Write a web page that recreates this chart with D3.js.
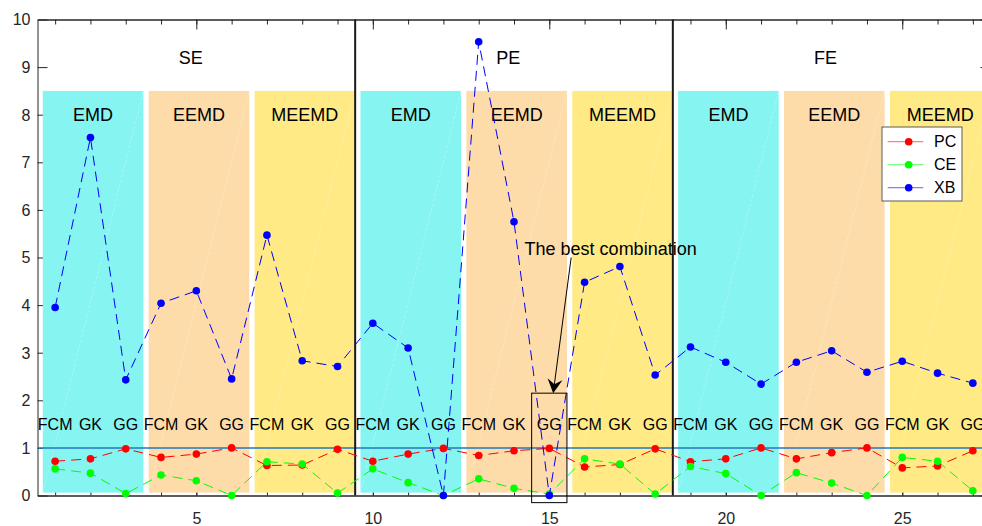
<!DOCTYPE html>
<html>
<head>
<meta charset="utf-8">
<script src="https://cdn.jsdelivr.net/npm/d3@7"></script>
<style>
  html, body { margin: 0; padding: 0; background: #fff; }
  svg { display: block; font-family: "Liberation Sans", Arial, sans-serif; }
</style>
</head>
<body>
<svg id="chart" width="982" height="526"></svg>
<script>
// Clustering validity indices for 27 combinations:
// entropy type (SE / PE / FE) x decomposition (EMD / EEMD / MEEMD) x clustering (FCM / GK / GG)
const groups = ["SE", "PE", "FE"];
const methods = ["EMD", "EEMD", "MEEMD"];
const algorithms = ["FCM", "GK", "GG"];
const methodColors = ["#86f4f0", "#fddca9", "#ffea86"];

const seriesNames = ["PC", "CE", "XB"];
const seriesColors = ["#ff0000", "#00ff00", "#0000ff"];

const PC = [0.72, 0.77, 0.98, 0.80, 0.87, 1.00, 0.63, 0.64, 0.97,
            0.72, 0.87, 0.99, 0.84, 0.94, 0.99, 0.60, 0.65, 0.98,
            0.71, 0.77, 1.00, 0.77, 0.90, 1.00, 0.58, 0.62, 0.94];
const CE = [0.56, 0.47, 0.04, 0.43, 0.31, 0.00, 0.71, 0.66, 0.05,
            0.56, 0.27, 0.00, 0.35, 0.15, 0.03, 0.77, 0.66, 0.03,
            0.61, 0.46, 0.00, 0.48, 0.26, 0.00, 0.80, 0.72, 0.10];
const XB = [3.95, 7.52, 2.43, 4.04, 4.30, 2.45, 5.47, 2.83, 2.71,
            3.62, 3.10, 0.00, 9.53, 5.75, 0.00, 4.48, 4.81, 2.53,
            3.12, 2.80, 2.34, 2.80, 3.04, 2.59, 2.82, 2.57, 2.36];

const xTickLabels = [5, 10, 15, 20, 25];
const xMinorTicks = d3.range(1, 28);
const yTickLabels = [0, 1, 2, 3, 4, 5, 6, 7, 8, 9, 10];

// Highlighted result: combination 15 (PE-EEMD-GG)
const bestText = "The best combination";
const bestTextPos = [14.3, 5.18];
const arrowFrom = [15.62, 5.0];
const arrowTo = [15.11, 2.15];
const bestBox = [14.5, 15.5, -0.15, 2.15];

const svg = d3.select("#chart");

const x = d3.scaleLinear().domain([0.5, 27.5]).range([37.5, 990.5]);
const y = d3.scaleLinear().domain([0, 10]).range([495.5, 19.5]);

const axisColor = "#262626";

// ---- axes (drawn first, so the shaded bands sit over the ticks) ----
const axes = svg.append("g");

function styleAxis(g) {
  g.selectAll("path, line").attr("stroke", axisColor).attr("stroke-width", 1);
  g.selectAll("text").attr("fill", axisColor).style("font-size", "16px")
    .style("font-family", '"Liberation Sans", Arial, sans-serif');
}

// bottom: minor ticks on every combination, longer ticks + labels every 5
axes.append("g").attr("transform", `translate(0,${y(0)})`)
  .call(d3.axisBottom(x).tickValues(xMinorTicks).tickSizeInner(-5).tickSizeOuter(0).tickFormat(""))
  .call(styleAxis);
axes.append("g").attr("class", "xlab").attr("transform", `translate(0,${y(0)})`)
  .call(d3.axisBottom(x).tickValues(xTickLabels).tickSizeInner(-10).tickSizeOuter(0).tickPadding(17))
  .call(styleAxis);
// top
axes.append("g").attr("transform", `translate(0,${y(10)})`)
  .call(d3.axisTop(x).tickValues(xMinorTicks).tickSizeInner(-5).tickSizeOuter(0).tickFormat(""))
  .call(styleAxis);
axes.append("g").attr("transform", `translate(0,${y(10)})`)
  .call(d3.axisTop(x).tickValues(xTickLabels).tickSizeInner(-10).tickSizeOuter(0).tickFormat(""))
  .call(styleAxis);
// left
axes.append("g").attr("class", "ylab").attr("transform", `translate(${x(0.5)},0)`)
  .call(d3.axisLeft(y).tickValues(yTickLabels).tickSizeInner(-10).tickSizeOuter(0).tickPadding(7))
  .call(styleAxis);
// right
axes.append("g").attr("transform", `translate(${x(27.5)},0)`)
  .call(d3.axisRight(y).tickValues(yTickLabels).tickSizeInner(-10).tickSizeOuter(0).tickFormat(""))
  .call(styleAxis);
axes.selectAll(".xlab .tick text").attr("dy", "0.71em");
axes.selectAll(".ylab .tick text").attr("dy", "0.34em");

// ---- shaded method bands ----
const bands = [];
groups.forEach((g, gi) => {
  methods.forEach((m, mi) => {
    const k = gi * 3 + mi;
    bands.push({ group: g, method: m, color: methodColors[mi], x0: 3 * k + 0.65, x1: 3 * k + 3.5 });
  });
});

const bandG = svg.append("g");
bandG.selectAll("rect").data(bands).join("rect")
  .attr("x", d => x(d.x0))
  .attr("y", y(8.5))
  .attr("width", d => x(d.x1) - x(d.x0))
  .attr("height", y(0.06) - y(8.5))
  .attr("fill", d => d.color);
// faint seam across each patch
bandG.selectAll("line").data(bands).join("line")
  .attr("x1", d => x(d.x0)).attr("y1", y(0.06))
  .attr("x2", d => x(d.x1)).attr("y2", y(8.5))
  .attr("stroke", "#fff").attr("stroke-opacity", 0.35)
  .attr("stroke-width", 0.8).attr("stroke-dasharray", "3,2");

// reference level at 1
svg.append("line")
  .attr("x1", x(0.5)).attr("x2", x(27.5))
  .attr("y1", y(1)).attr("y2", y(1))
  .attr("stroke", "#1f78c1").attr("stroke-width", 1.5);

// separators between entropy groups
svg.append("g").selectAll("line").data([9.5, 18.5]).join("line")
  .attr("x1", d => x(d)).attr("x2", d => x(d))
  .attr("y1", y(0)).attr("y2", y(10))
  .attr("stroke", "#1a1a1a").attr("stroke-width", 2);

// ---- text labels ----
const labels = svg.append("g").attr("fill", "#000");
labels.selectAll("text.group").data(groups).join("text")
  .attr("class", "group")
  .attr("x", (d, i) => x(9 * i + 4.5))
  .attr("y", y(9.2))
  .attr("dy", "0.35em")
  .style("font-size", "18px")
  .text(d => d);
labels.selectAll("text.method").data(bands).join("text")
  .attr("class", "method")
  .attr("x", d => x((d.x0 + d.x1) / 2))
  .attr("y", y(8.0))
  .attr("dy", "0.35em")
  .attr("text-anchor", "middle")
  .style("font-size", "18px")
  .text(d => d.method);
labels.selectAll("text.alg").data(xMinorTicks).join("text")
  .attr("class", "alg")
  .attr("x", d => x(d))
  .attr("y", y(1.5))
  .attr("dy", "0.35em")
  .attr("text-anchor", "middle")
  .style("font-size", "16px")
  .text((d, i) => algorithms[i % 3]);

// ---- series ----
const series = [PC, CE, XB].map((vals, si) => ({
  name: seriesNames[si],
  color: seriesColors[si],
  values: vals.map((v, i) => ({ i: i + 1, v }))
}));

const line = d3.line().x(d => x(d.i)).y(d => y(d.v));
const seriesG = svg.append("g").selectAll("g").data(series).join("g");
seriesG.append("path")
  .attr("d", d => line(d.values))
  .attr("fill", "none")
  .attr("stroke", d => d.color)
  .attr("stroke-width", 1)
  .attr("stroke-dasharray", "10,6");
seriesG.selectAll("circle").data(d => d.values.map(p => ({ ...p, color: d.color }))).join("circle")
  .attr("cx", d => x(d.i))
  .attr("cy", d => y(d.v))
  .attr("r", 3.8)
  .attr("fill", d => d.color);

// ---- annotation ----
const ann = svg.append("g");
ann.append("rect")
  .attr("x", x(bestBox[0])).attr("y", y(bestBox[3]))
  .attr("width", x(bestBox[1]) - x(bestBox[0]))
  .attr("height", y(bestBox[2]) - y(bestBox[3]))
  .attr("fill", "none").attr("stroke", "#000").attr("stroke-width", 1);
ann.append("text")
  .attr("x", x(bestTextPos[0])).attr("y", y(bestTextPos[1]))
  .attr("dy", "0.35em")
  .style("font-size", "18px")
  .attr("fill", "#000")
  .text(bestText);

const ax0 = x(arrowFrom[0]), ay0 = y(arrowFrom[1]);
const ax1 = x(arrowTo[0]), ay1 = y(arrowTo[1]);
const ang = Math.atan2(ay1 - ay0, ax1 - ax0);
const headLen = 14, headW = 7.5, notch = 9;
const ux = Math.cos(ang), uy = Math.sin(ang), px = -uy, py = ux;
ann.append("line")
  .attr("x1", ax0).attr("y1", ay0)
  .attr("x2", ax1 - ux * notch).attr("y2", ay1 - uy * notch)
  .attr("stroke", "#000").attr("stroke-width", 1);
ann.append("path")
  .attr("d", `M${ax1},${ay1}`
    + `L${ax1 - ux * headLen + px * headW},${ay1 - uy * headLen + py * headW}`
    + `L${ax1 - ux * notch},${ay1 - uy * notch}`
    + `L${ax1 - ux * headLen - px * headW},${ay1 - uy * headLen - py * headW}Z`)
  .attr("fill", "#000");

// ---- legend ----
const lg = svg.append("g").attr("transform", "translate(882,127)");
lg.append("rect").attr("width", 80).attr("height", 74)
  .attr("fill", "#fff").attr("stroke", "#5a5a5a").attr("stroke-width", 1);
const items = lg.selectAll("g").data(series).join("g")
  .attr("transform", (d, i) => `translate(0,${14.7 + i * 23})`);
items.append("line").attr("x1", 5.7).attr("x2", 41.3)
  .attr("stroke", d => d.color).attr("stroke-opacity", 0.5).attr("stroke-width", 1.2);
items.append("circle").attr("cx", 26.7).attr("r", 3.8).attr("fill", d => d.color);
items.append("text").attr("x", 52).attr("dy", "0.35em")
  .style("font-size", "16px").attr("fill", "#000").text(d => d.name);
</script>
</body>
</html>
